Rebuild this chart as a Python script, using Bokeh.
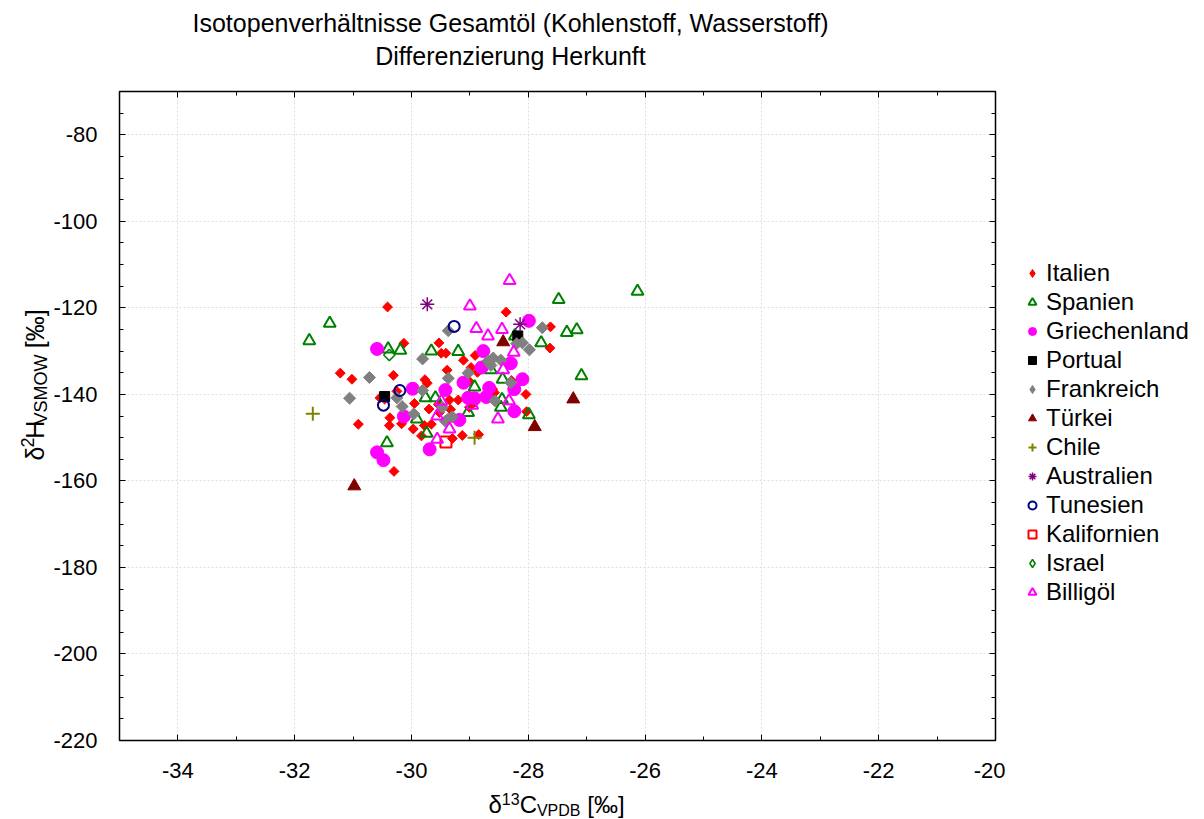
import math
from bokeh.plotting import figure
from bokeh.models import (SingleIntervalTicker, LinearAxis, Legend, LegendItem,
                          CustomJSTickFormatter, Range1d)
from bokeh.layouts import column, row
from bokeh.core.properties import value
from bokeh.embed import file_html
from bokeh.resources import INLINE

FONT = "Liberation Sans"

# ---------------- data ----------------
title_lines = ["Isotopenverhältnisse Gesamtöl (Kohlenstoff, Wasserstoff)", "Differenzierung Herkunft"]

italien_x = [-30.41, -28.38, -27.62, -27.63, -30.13, -29.53, -31.22, -31.02, -30.31, -30.91, -30.30,
             -29.77, -29.73, -29.49, -29.41, -29.39, -29.11, -28.98, -28.91, -30.54, -30.46, -30.37,
             -30.38, -30.17, -29.95, -29.97, -29.83, -29.78, -29.70, -29.66, -29.52, -29.35, -29.20,
             -29.30, -29.33, -29.01, -28.91, -28.85, -29.13, -28.58, -28.27, -28.04, -28.03, -29.01,
             -28.87, -30.25, -29.54, -28.29, -28.61]
italien_y = [-119.8, -121.0, -124.4, -129.3, -128.2, -128.1, -135.1, -136.5, -135.6, -146.9, -157.8,
             -136.6, -137.4, -130.5, -130.5, -134.4, -132.1, -133.8, -131.0, -140.8, -141.1, -145.4,
             -147.2, -146.8, -142.1, -148.0, -149.6, -147.2, -143.4, -146.9, -144.2, -141.3, -141.3,
             -150.2, -143.5, -143.0, -141.8, -149.3, -149.5, -139.6, -137.7, -140.0, -144.0, -137.0,
             -134.9, -139.3, -142.3, -136.8, -138.8]

spanien_x = [-26.13, -27.48, -31.75, -31.40, -27.34, -27.17, -27.09, -27.78, -28.23, -30.40, -30.19,
             -29.66, -29.20, -30.42, -29.76, -29.59, -29.91, -29.74, -29.03, -28.92, -28.64, -28.44,
             -28.47, -27.99, -28.45]
spanien_y = [-116.2, -118.1, -127.6, -123.6, -125.7, -125.1, -135.7, -128.1, -126.5, -129.5, -129.8,
             -130.0, -130.1, -151.2, -140.8, -140.8, -145.7, -149.0, -144.2, -138.3, -134.3, -136.5,
             -143.0, -144.7, -141.2]

griechenland_x = [-27.99, -30.59, -29.98, -30.13, -30.59, -30.48, -29.69, -29.42, -29.18, -29.11,
                  -29.03, -28.77, -28.30, -28.10, -28.24, -28.24, -28.80, -28.72, -28.67, -28.92]
griechenland_y = [-123.0, -129.5, -138.7, -145.1, -153.4, -155.2, -152.7, -139.0, -145.9, -137.3,
                  -140.8, -130.0, -132.8, -136.5, -138.8, -143.9, -133.8, -140.6, -138.5, -140.9]

portual_x = [-30.46, -28.18]
portual_y = [-140.5, -126.5]

frankreich_x = [-29.37, -27.76, -27.98, -29.81, -30.72, -31.06, -30.25, -30.16, -29.96, -29.81, -29.37,
                -29.03, -28.69, -28.60, -28.47, -28.64, -28.20, -29.47, -29.37, -29.30, -29.42, -28.57,
                -28.30, -28.10]
frankreich_y = [-125.3, -124.6, -129.7, -131.8, -136.1, -140.9, -140.8, -142.8, -144.5, -139.1, -136.3,
                -135.1, -132.3, -131.6, -132.1, -133.3, -128.3, -143.0, -145.7, -145.2, -146.2, -141.5,
                -137.3, -128.1]

tuerkei_x = [-28.43, -27.23, -27.89, -30.98]
tuerkei_y = [-127.9, -141.1, -147.5, -161.2]

chile_x = [-31.69, -28.92]
chile_y = [-144.5, -150.0]

australien_x = [-29.73, -28.14]
australien_y = [-119.2, -123.8]

tunesien_x = [-29.27, -30.20, -30.48]
tunesien_y = [-124.3, -139.1, -142.5]

kalifornien_x = [-29.41]
kalifornien_y = [-151.0]

israel_x = [-30.38]
israel_y = [-130.9]

billigoel_x = [-28.32, -29.00, -28.89, -28.69, -28.45, -28.25, -28.43, -28.33, -28.52, -29.56, -29.56,
               -29.35, -28.96, -29.49]
billigoel_y = [-113.7, -119.6, -124.8, -126.5, -125.0, -130.3, -134.3, -141.5, -145.7, -145.0, -150.4,
               -148.0, -142.5, -141.6]

# ---------------- main figure ----------------
p = figure(width=955, height=710, x_range=Range1d(-35, -20), y_range=Range1d(-220, -70),
           output_backend="svg", toolbar_location=None, title=None,
           min_border_left=67, min_border_right=10, min_border_top=11, min_border_bottom=50)
p.outline_line_color = "black"
p.outline_line_width = 1.5
p.background_fill_color = "white"
p.border_fill_color = "white"

xt = SingleIntervalTicker(interval=2, num_minor_ticks=2)
yt = SingleIntervalTicker(interval=20, num_minor_ticks=4)
fmt = CustomJSTickFormatter(code="return tick.toFixed(0)")

for ax, t in ((p.xaxis[0], xt), (p.yaxis[0], yt)):
    ax.ticker = t
    ax.formatter = fmt
    ax.major_tick_in = 6
    ax.major_tick_out = 0
    ax.minor_tick_in = 4
    ax.minor_tick_out = 0
    ax.axis_line_color = "black"
    ax.major_tick_line_color = "black"
    ax.minor_tick_line_color = "black"
    ax.major_label_text_font = FONT
    ax.major_label_text_font_size = "22px"
    ax.major_label_text_color = "black"
p.xaxis[0].major_label_standoff = 22
p.yaxis[0].major_label_standoff = 22

for loc, t in (("above", xt), ("right", yt)):
    ax = LinearAxis(ticker=t, formatter=CustomJSTickFormatter(code="return ''"),
                    major_tick_in=6, major_tick_out=0, minor_tick_in=4, minor_tick_out=0,
                    axis_line_color=None, major_tick_line_color="black",
                    minor_tick_line_color="black", major_label_standoff=0,
                    major_label_text_font_size="1px")
    p.add_layout(ax, loc)

p.xgrid.ticker = xt
p.ygrid.ticker = yt
p.grid.grid_line_color = "#dedede"
p.grid.grid_line_dash = "2 2"
p.grid.grid_line_width = 1

D = math.pi / 4
series = [
    ("Italien", italien_x, italien_y, dict(marker="square", angle=D, size=7, fill_color="#ff0000", line_color="#ff0000")),
    ("Spanien", spanien_x, spanien_y, dict(marker="triangle", size=12, fill_color=None, line_color="#008000", line_width=2)),
    ("Griechenland", griechenland_x, griechenland_y, dict(marker="circle", size=13, fill_color="#ff00ff", line_color="#ff00ff")),
    ("Portual", portual_x, portual_y, dict(marker="square", size=10, fill_color="black", line_color="black")),
    ("Frankreich", frankreich_x, frankreich_y, dict(marker="square", angle=D, size=8.5, fill_color="#808080", line_color="#808080")),
    ("Türkei", tuerkei_x, tuerkei_y, dict(marker="triangle", size=13, fill_color="#800000", line_color="#800000")),
    ("Chile", chile_x, chile_y, dict(marker="cross", size=14, line_color="#808000", line_width=2)),
    ("Australien", australien_x, australien_y, dict(marker="asterisk", size=14, line_color="#800080", line_width=1.5)),
    ("Tunesien", tunesien_x, tunesien_y, dict(marker="circle", size=11, fill_color=None, line_color="#000080", line_width=2)),
    ("Kalifornien", kalifornien_x, kalifornien_y, dict(marker="square", size=11, fill_color=None, line_color="#ff0000", line_width=2)),
    ("Israel", israel_x, israel_y, dict(marker="square", angle=D, size=8, fill_color=None, line_color="#008000", line_width=1.5)),
    ("Billigöl", billigoel_x, billigoel_y, dict(marker="triangle", size=12, fill_color=None, line_color="#ff00ff", line_width=2)),
]

for name, xs, ys, style in series:
    p.scatter(xs, ys, **style)


# ---------------- auxiliary panels (text + legend) ----------------
def aux(w, h):
    f = figure(width=w, height=h, x_range=Range1d(0, w), y_range=Range1d(0, h),
               output_backend="svg", toolbar_location=None, title=None, min_border=0,
               x_axis_type=None, y_axis_type=None)
    f.outline_line_color = None
    f.background_fill_color = "white"
    f.border_fill_color = "white"
    return f


def txt(f, x, y, s, size="24px", angle=0.0):
    f.text(x=[x], y=[y], text=[s], angle=angle, text_font=value(FONT),
           text_font_size=value(size), text_color="black", text_align="center",
           text_baseline="middle")


# legend panel (screen x 1005..1204, y 80..790); its proxy renderers reuse the
# series data, which lies outside this panel's ranges, so only the legend shows
lfig = aux(199, 710)
items = []
for name, xs, ys, style in series:
    st = dict(style)
    if st.get("angle") == D:
        st.pop("angle")
        st["marker"] = "diamond"
        st["size"] = st["size"] * 1.45
    r = lfig.scatter(xs, ys, **st)
    items.append(LegendItem(label=name, renderers=[r]))
legend = Legend(items=items, location=(17, 134), border_line_color=None,
                background_fill_alpha=0, label_text_font=FONT, label_text_font_size="24px",
                label_text_color="black", glyph_width=20, glyph_height=20, label_height=20,
                spacing=1, padding=5, margin=0, label_standoff=4)
lfig.add_layout(legend)

# title (screen y 0..80)
tfig = aux(1204, 80)
txt(tfig, 510, 58, title_lines[0], size="25px")
txt(tfig, 510, 25, title_lines[1], size="25px")

# y axis label, rotated (screen x 0..50, y 80..790)
yfig = aux(50, 710)
A = math.pi / 2
txt(yfig, 34.0, 314.0, "δ", size="25px", angle=A)
txt(yfig, 27.4, 326.0, "2", size="18px", angle=A)
txt(yfig, 34.0, 340.0, "H", size="25px", angle=A)
txt(yfig, 40.0, 384.0, "VSMOW", size="18px", angle=A)
txt(yfig, 34.0, 450.5, "[‰]", size="25px", angle=A)

# x axis label (screen y 790..819)
xfig = aux(1204, 29)
txt(xfig, 494.7, 15.5, "δ")
txt(xfig, 510.2, 20.2, "13", size="16px")
txt(xfig, 527.8, 15.5, "C")
txt(xfig, 558.2, 9.2, "VPDB", size="16px")
txt(xfig, 605.4, 15.5, "[‰]")

root = column(tfig, row(yfig, p, lfig), xfig)
open("out.html", "w").write(file_html(root, INLINE))
